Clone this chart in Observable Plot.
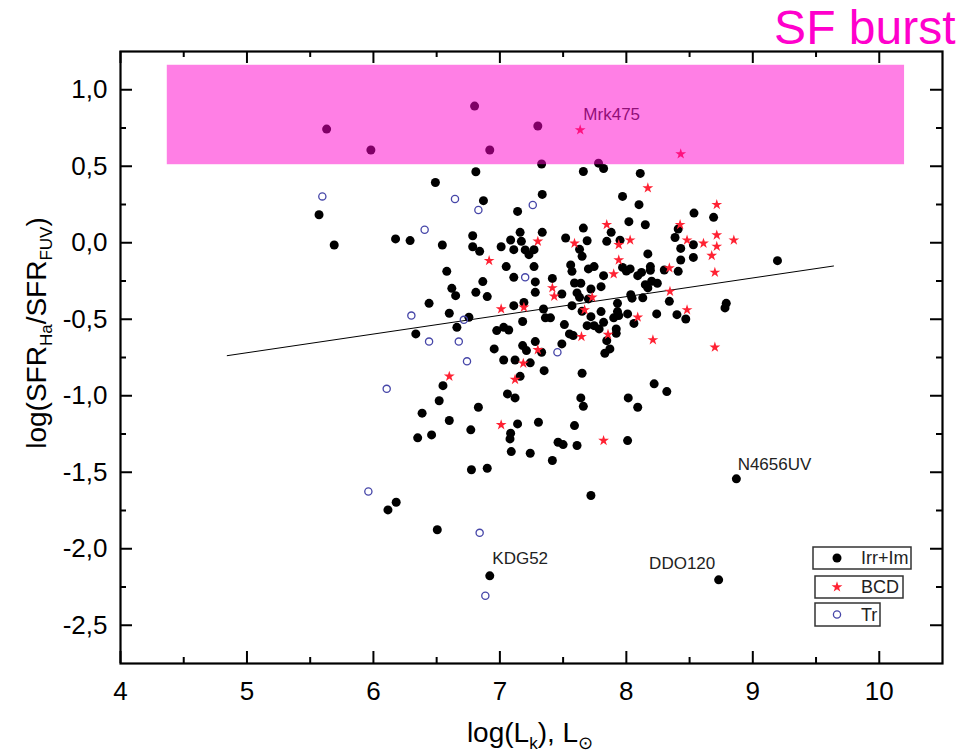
<!DOCTYPE html>
<html><head><meta charset="utf-8">
<script src="https://cdn.jsdelivr.net/npm/d3@7"></script>
<script src="https://cdn.jsdelivr.net/npm/@observablehq/plot@0.6"></script>
<style>body{margin:0;background:#fff;} #chart svg{display:block;}</style>
</head><body><div id="chart"></div>
<script>
// ---- data (log L_K, log SFR_Ha/SFR_FUV) ----
const irr = [
[5.63,0.743],[5.98,0.606],[6.80,0.893],[6.92,0.606],[7.30,0.763],
[7.33,0.515],[7.78,0.52],[7.82,0.485],
[6.81,0.464],[7.66,0.466],[8.11,0.453],[6.49,0.394],[7.335,0.316],[7.97,0.303],[6.87,0.275],[8.10,0.249],[7.14,0.205],[8.535,0.194],[5.57,0.183],[8.69,0.166],[8.02,0.138],[8.15,0.118],[7.66,0.096],[8.41,0.09],[7.88,0.068],[7.16,0.068],[7.335,0.068],[6.785,0.046],[8.385,0.034],[7.52,0.031],[6.175,0.025],[6.29,0.014],[7.085,0.018],[7.17,0.009],[7.69,0.013],[7.95,0.017],[7.845,0.009],[6.545,-0.015],[5.69,-0.015],[8.53,-0.013],[6.785,-0.026],[7.01,-0.026],[8.43,-0.037],[7.63,-0.043],[7.11,-0.045],[7.20,-0.047],[7.27,-0.045],[6.84,-0.056],[7.23,-0.078],[7.65,-0.089],[8.53,-0.096],[8.43,-0.113],[9.195,-0.117],[8.17,-0.073],
[7.05,-0.156],[7.27,-0.156],[7.56,-0.145],[7.57,-0.187],[7.70,-0.171],[6.58,-0.187],[7.745,-0.156],[7.82,-0.215],[7.97,-0.161],[8.03,-0.171],[8.00,-0.185],[8.12,-0.194],[8.09,-0.215],[8.19,-0.156],[8.19,-0.18],[8.30,-0.178],[8.41,-0.187],
[7.11,-0.226],[7.28,-0.256],[7.415,-0.233],[6.865,-0.254],[7.59,-0.263],[7.64,-0.265],[8.15,-0.274],[8.20,-0.252],[8.245,-0.265],[8.17,-0.295],[6.62,-0.298],[6.65,-0.346],[6.81,-0.324],[6.90,-0.352],[7.28,-0.324],[7.49,-0.335],[7.61,-0.328],[7.63,-0.357],[7.70,-0.367],[7.72,-0.302],[7.80,-0.287],[8.035,-0.34],[8.045,-0.362],[8.13,-0.36],[7.93,-0.396],[8.34,-0.383],[8.79,-0.396],[8.78,-0.426],[6.44,-0.396],
[6.60,-0.461],[6.755,-0.487],[7.11,-0.411],[7.19,-0.39],[7.345,-0.433],[7.57,-0.411],[7.65,-0.448],[7.72,-0.483],[7.90,-0.491],[8.06,-0.527],[8.24,-0.465],[8.40,-0.47],[8.47,-0.498],[7.80,-0.45],[7.93,-0.45],[7.94,-0.476],[8.01,-0.465],
[6.66,-0.553],[6.975,-0.574],[7.03,-0.553],[7.07,-0.57],[7.18,-0.515],[7.36,-0.491],[7.40,-0.491],[7.51,-0.535],[7.55,-0.596],[7.58,-0.607],[7.69,-0.542],[7.745,-0.542],[7.785,-0.563],[7.82,-0.52],[7.92,-0.563],[7.92,-0.592],[6.335,-0.596],
[6.955,-0.694],[7.49,-0.661],[7.18,-0.672],[7.21,-0.705],[7.28,-0.646],[7.33,-0.716],[7.845,-0.64],[7.87,-0.694],[7.83,-0.722],[7.03,-0.766],[7.12,-0.766],[7.24,-0.785],[7.35,-0.836],[7.16,-0.873],[7.65,-0.853],[6.55,-0.934],[8.22,-0.922],[8.32,-0.973],
[6.52,-1.033],[7.06,-0.988],[7.12,-1.014],[7.64,-1.014],[7.66,-1.069],[8.015,-1.014],[8.09,-1.075],[6.83,-1.075],[6.385,-1.114],[6.60,-1.162],[6.77,-1.223],[7.14,-1.184],[7.305,-1.173],[7.59,-1.195],[7.085,-1.245],[7.08,-1.282],[6.35,-1.275],[6.46,-1.256],[7.46,-1.304],[7.50,-1.319],[7.61,-1.325],[8.01,-1.293],[7.09,-1.365],[7.24,-1.376],[7.415,-1.423],[6.775,-1.484],[6.90,-1.474],[8.87,-1.543],[7.72,-1.652],[6.115,-1.746],[6.18,-1.696],[6.505,-1.876],[6.92,-2.177],[8.73,-2.203]
];
const bcd = [
[7.635,0.737],[8.43,0.58],[8.17,0.358],[8.715,0.249],[7.845,0.118],[8.425,0.118],[8.715,0.05],[8.85,0.017],[8.48,0.017],[8.61,-0.004],[8.715,-0.024],[8.675,-0.084],[7.30,0.009],[7.59,-0.004],[8.03,0.017],[7.94,-0.013],[6.915,-0.117],[7.94,-0.113],[8.34,-0.165],[7.90,-0.204],[8.70,-0.194],[7.415,-0.295],[7.43,-0.35],[8.345,-0.318],[7.73,-0.357],[7.01,-0.433],[7.19,-0.422],[7.67,-0.439],[8.48,-0.439],[8.09,-0.487],[7.645,-0.614],[7.855,-0.60],[8.21,-0.635],[8.70,-0.683],[7.30,-0.70],[7.185,-0.788],[6.60,-0.873],[7.12,-0.894],[7.01,-1.19],[7.82,-1.293]
];
const tr = [
[5.596,0.303],[6.645,0.286],[6.83,0.214],[7.26,0.247],[6.405,0.085],[7.20,-0.226],[6.30,-0.476],[6.715,-0.504],[6.44,-0.646],[6.675,-0.646],[6.74,-0.775],[7.455,-0.716],[6.105,-0.955],[5.96,-1.626],[6.84,-1.896],[6.885,-2.307]
];
const fitX = [4.844, 9.638];
const fitY = [-0.738, -0.152];
const burstX = [4.37, 10.2];
const burstY = [0.51, 1.16];
const xMajor = [4, 5, 6, 7, 8, 9, 10];
const xMinor = [4.5, 5.5, 6.5, 7.5, 8.5, 9.5];
const yMajor = [-2.5, -2, -1.5, -1, -0.5, 0, 0.5, 1];
const yMinor = [-2.25, -1.75, -1.25, -0.75, -0.25, 0.25, 0.75];
const labelNames = ["Mrk475", "N4656UV", "DDO120", "KDG52"];
const labelX = [7.66, 8.88, 8.18, 6.94];
const labelY = [0.841, -1.45, -2.098, -2.065];
const legendNames = ["Irr+Im", "BCD", "Tr"];

// ---- layout ----
const W = 975, H = 754, mL = 120, mR = 33, mT = 51, mB = 91;
const fw = W - mL - mR, fh = H - mT - mB;
const font = "'Liberation Sans', Arial, sans-serif";
const narrow = "'Liberation Sans Narrow', 'Liberation Sans', Arial, sans-serif";
const fmt = d => d.toFixed(1).replace(".", ",");
const RED = "#ff2233", BLUE = "#4646a8", PINK = "#ff00cc";

const fitData = fitX.map((x, i) => ({x, y: fitY[i]}));
const labels = labelNames.map((t, i) => ({t, x: labelX[i], y: labelY[i]}));
const burst = [{x1: burstX[0], x2: burstX[1], y1: burstY[0], y2: burstY[1]}];
const P = d => d[0], Q = d => d[1];

const chart = Plot.plot({
  width: W, height: H,
  marginLeft: mL, marginRight: mR, marginTop: mT, marginBottom: mB,
  style: {fontFamily: font, background: "#fff", color: "black", overflow: "visible"},
  x: {domain: [4, 10.5]},
  y: {domain: [-2.75, 1.25]},
  marks: [
    Plot.axisX({ticks: xMajor, tickSize: 0, tickPadding: 18, tickFormat: d => String(d), fontSize: 26, fontFamily: narrow, label: null}),
    Plot.axisY({ticks: yMajor, tickSize: 0, tickPadding: 13, tickFormat: fmt, fontSize: 26, fontFamily: narrow, label: null}),
    // inward ticks
    Plot.tickY(yMajor, {y: d => d, insetRight: fw - 12, stroke: "black", strokeWidth: 2}),
    Plot.tickY(yMajor, {y: d => d, insetLeft: fw - 12, stroke: "black", strokeWidth: 2}),
    Plot.tickY(yMinor, {y: d => d, insetRight: fw - 6, stroke: "black", strokeWidth: 2}),
    Plot.tickY(yMinor, {y: d => d, insetLeft: fw - 6, stroke: "black", strokeWidth: 2}),
    Plot.tickX(xMajor, {x: d => d, insetTop: fh - 12, stroke: "black", strokeWidth: 2}),
    Plot.tickX(xMajor, {x: d => d, insetBottom: fh - 12, stroke: "black", strokeWidth: 2}),
    Plot.tickX(xMinor, {x: d => d, insetTop: fh - 6, stroke: "black", strokeWidth: 2}),
    Plot.tickX(xMinor, {x: d => d, insetBottom: fh - 6, stroke: "black", strokeWidth: 2}),
    Plot.line(fitData, {x: "x", y: "y", stroke: "black", strokeWidth: 1}),
    Plot.dot(irr, {x: P, y: Q, r: 4.5, fill: "black"}),
    Plot.dot(bcd, {x: P, y: Q, symbol: "star", r: 3.4, fill: RED}),
    Plot.dot(tr, {x: P, y: Q, r: 3.6, stroke: BLUE, strokeWidth: 1.3, fill: "none"}),
    Plot.text(labels, {x: "x", y: "y", text: "t", textAnchor: "start", fontSize: 17, fill: "#222"}),
    Plot.rect(burst, {x1: "x1", x2: "x2", y1: "y1", y2: "y2", fill: PINK, fillOpacity: 0.5}),
    Plot.frame({stroke: "black", strokeWidth: 2.2}),
    Plot.text(["SF burst"], {text: d => d, frameAnchor: "top-right", dx: 13, dy: -23, textAnchor: "end", lineAnchor: "middle", fontSize: 48, fill: PINK})
  ]
});
document.getElementById("chart").appendChild(chart);

// ---- axis titles with subscripts ----
const svg = d3.select(chart);
const yt = svg.append("text")
  .attr("transform", "translate(46,333) rotate(-90)")
  .attr("text-anchor", "middle").attr("fill", "black")
  .style("font-family", font).style("font-size", "28px");
yt.append("tspan").text("log(SFR");
yt.append("tspan").attr("dy", 6).style("font-size", "17px").text("Ha");
yt.append("tspan").attr("dy", -6).text("/SFR");
yt.append("tspan").attr("dy", 6).style("font-size", "17px").text("FUV");
yt.append("tspan").attr("dy", -6).text(")");

const xt = svg.append("text")
  .attr("transform", "translate(530,742)")
  .attr("text-anchor", "middle").attr("fill", "black")
  .style("font-family", font).style("font-size", "28px");
xt.append("tspan").text("log(L");
xt.append("tspan").attr("dy", 7).style("font-size", "17px").text("k");
xt.append("tspan").attr("dy", -7).text("), L");
xt.append("tspan").attr("dy", 7).style("font-size", "18px").text("\u2299");

// ---- legend ----
const boxes = [[813, 547, 98, 22], [815, 576, 88, 22], [815, 603, 65, 23]];
const lg = svg.append("g").style("font-family", font).style("font-size", "18px").attr("text-anchor", "start");
boxes.forEach((b, i) => {
  lg.append("rect").attr("x", b[0]).attr("y", b[1]).attr("width", b[2]).attr("height", b[3])
    .attr("fill", "white").attr("stroke", "#333").attr("stroke-width", 1.5);
  const cy = b[1] + b[3] / 2;
  if (i === 0) lg.append("circle").attr("cx", 837).attr("cy", cy).attr("r", 4.5).attr("fill", "black");
  if (i === 1) lg.append("path").attr("transform", `translate(837,${cy})`)
    .attr("d", d3.symbol(d3.symbolStar, Math.PI * 3.4 * 3.4)()).attr("fill", RED);
  if (i === 2) lg.append("circle").attr("cx", 837).attr("cy", cy).attr("r", 3.6)
    .attr("fill", "none").attr("stroke", BLUE).attr("stroke-width", 1.3);
  lg.append("text").attr("x", 861).attr("y", cy).attr("dy", "0.35em")
    .attr("text-anchor", "start").attr("fill", "#222").text(legendNames[i]);
});
</script>
</body></html>
